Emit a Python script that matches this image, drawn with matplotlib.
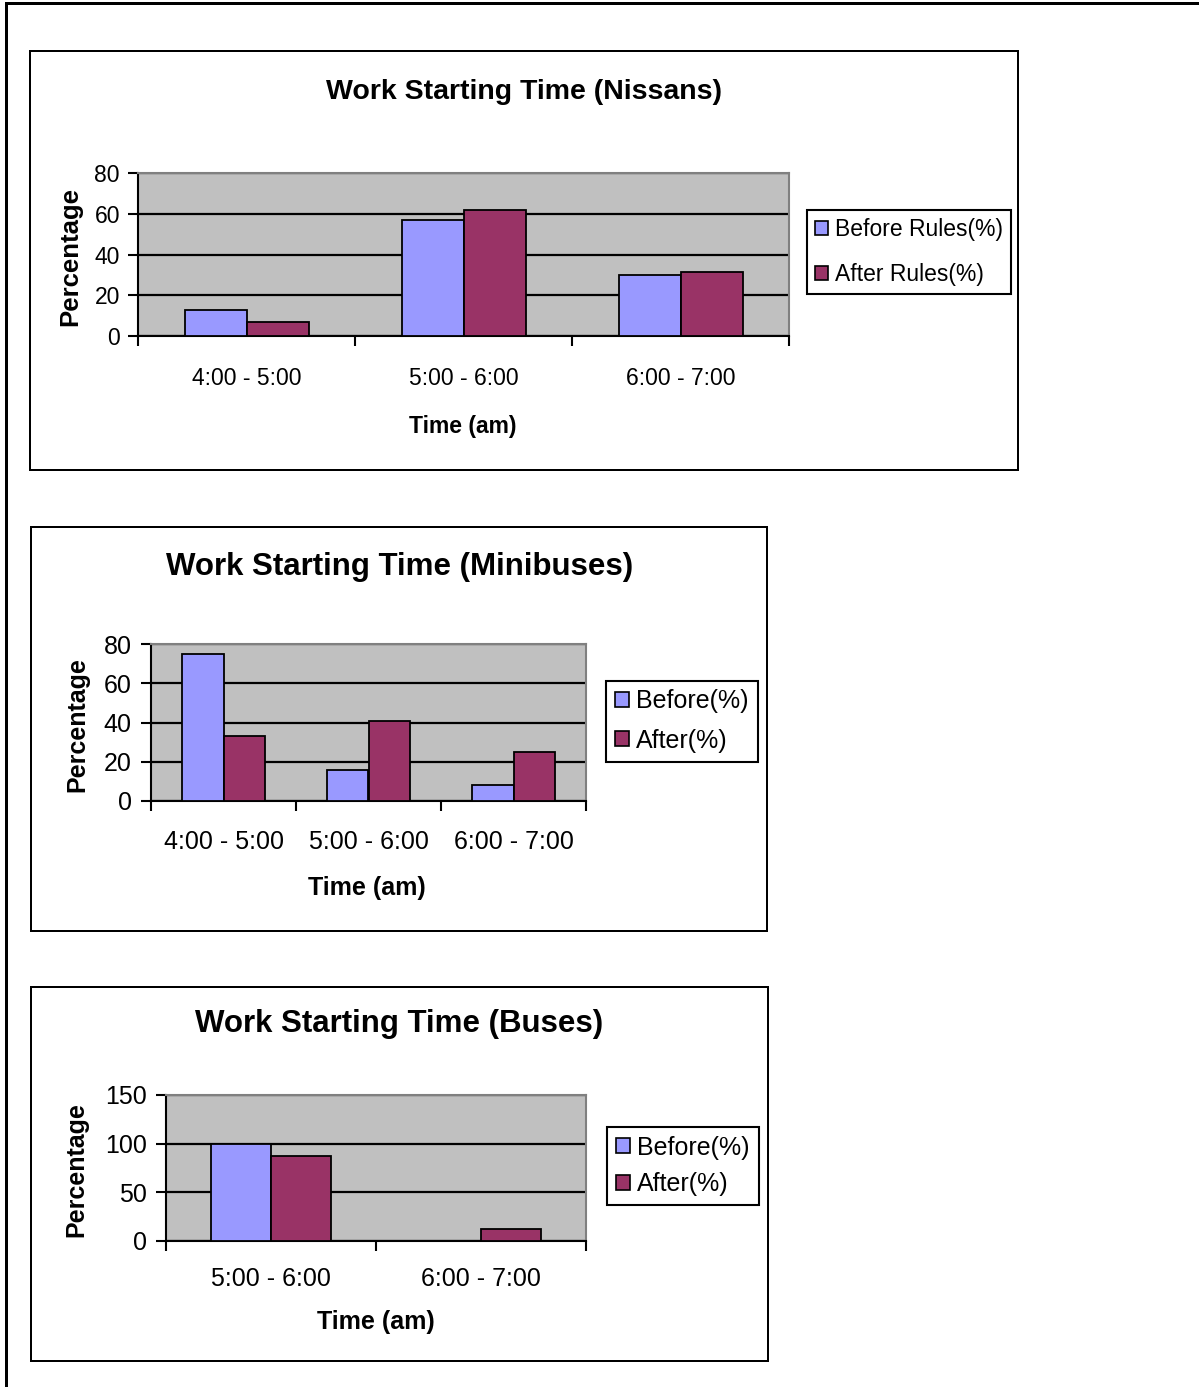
import numpy as np
import matplotlib
matplotlib.use("Agg")
import matplotlib.pyplot as plt
from matplotlib.patches import Patch, Rectangle
from matplotlib.lines import Line2D

plt.rcParams["font.family"] = ["Liberation Sans", "DejaVu Sans"]

W, H = 1199, 1387

NISSAN_SLOTS = ["4:00 - 5:00", "5:00 - 6:00", "6:00 - 7:00"]
NISSAN_BEFORE = [13, 57, 30]
NISSAN_AFTER = [7, 62, 31.5]

MINIBUS_SLOTS = ["4:00 - 5:00", "5:00 - 6:00", "6:00 - 7:00"]
MINIBUS_BEFORE = [75, 16, 8]
MINIBUS_AFTER = [33, 41, 25]

BUS_SLOTS = ["5:00 - 6:00", "6:00 - 7:00"]
BUS_BEFORE = [100, 0]
BUS_AFTER = [87, 12.5]

BEFORE_COLOR = "#9999FF"
AFTER_COLOR = "#993366"
PLOT_BG = "#C0C0C0"
PX = 72 / 100  # points per pixel at dpi 100


def fig_rect(x0, y0, x1, y1):
    """Pixel box (top-left origin) to figure-fraction [left, bottom, w, h]."""
    return [x0 / W, 1 - y1 / H, (x1 - x0) / W, (y1 - y0) / H]


def draw_panel(fig, title, slots, before, after, legend_labels, box, plot,
               ymax, ystep, title_xy, ylabel_xy, xlabel_xy, legend_xy,
               title_fs, tick_fs, label_fs, ylabel_fs, ypad, xpad, legend_gap):
    fig.add_artist(Rectangle((box[0] / W, 1 - box[3] / H),
                             (box[2] - box[0]) / W, (box[3] - box[1]) / H,
                             transform=fig.transFigure, fill=False,
                             edgecolor="black", lw=2 * PX))

    ax = fig.add_axes(fig_rect(*plot))
    ax.set_facecolor(PLOT_BG)
    x = np.arange(len(slots))
    w = 1 / 3.5  # Excel default gap width of 150%
    ax.bar(x - w / 2, before, w, color=BEFORE_COLOR, edgecolor="black", lw=1.3, zorder=3)
    ax.bar(x + w / 2, after, w, color=AFTER_COLOR, edgecolor="black", lw=1.3, zorder=3)

    ax.set_xlim(-0.5, len(slots) - 0.5)
    ax.set_ylim(0, ymax)
    ax.set_yticks(np.arange(0, ymax + 1, ystep))
    ax.yaxis.grid(True, color="black", lw=1.6)
    ax.set_axisbelow(True)
    ax.set_xticks(x, slots)
    ax.set_xticks(np.arange(len(slots) + 1) - 0.5, minor=True)
    ax.tick_params(axis="x", which="major", length=0, labelsize=tick_fs, pad=xpad)
    ax.tick_params(axis="x", which="minor", length=7, width=1.5)
    ax.tick_params(axis="y", length=7, width=1.5, labelsize=tick_fs, pad=ypad)
    for side in ("top", "right"):
        ax.spines[side].set_color("#808080")
        ax.spines[side].set_linewidth(1.5)
    for side in ("left", "bottom"):
        ax.spines[side].set_linewidth(1.5)

    fig.text(title_xy[0] / W, 1 - title_xy[1] / H, title, ha="center", va="center",
             fontsize=title_fs, fontweight="bold")
    fig.text(ylabel_xy[0] / W, 1 - ylabel_xy[1] / H, "Percentage", rotation=90,
             ha="center", va="center", fontsize=ylabel_fs, fontweight="bold")
    fig.text(xlabel_xy[0] / W, 1 - xlabel_xy[1] / H, "Time (am)", ha="center",
             va="center", fontsize=label_fs, fontweight="bold")

    handles = [Patch(facecolor=BEFORE_COLOR, edgecolor="black", lw=1.2),
               Patch(facecolor=AFTER_COLOR, edgecolor="black", lw=1.2)]
    leg = ax.legend(handles, legend_labels, loc="center",
                    bbox_to_anchor=(legend_xy[0] / W, 1 - legend_xy[1] / H),
                    bbox_transform=fig.transFigure, fontsize=tick_fs,
                    fancybox=False, edgecolor="black", framealpha=1,
                    handlelength=0.55, handleheight=0.55, handletextpad=0.3,
                    borderpad=0.35, labelspacing=legend_gap, borderaxespad=0)
    leg.get_frame().set_linewidth(1.5)


fig = plt.figure(figsize=(W / 100, H / 100), dpi=100)

# page frame: only top and left edges show
fig.add_artist(Line2D([6 / W, 6 / W], [0, 1 - 3 / H], transform=fig.transFigure,
                      color="black", lw=3 * PX))
fig.add_artist(Line2D([6 / W, 1], [1 - 3 / H, 1 - 3 / H], transform=fig.transFigure,
                      color="black", lw=3 * PX))

draw_panel(fig, "Work Starting Time (Nissans)", NISSAN_SLOTS, NISSAN_BEFORE, NISSAN_AFTER,
           ["Before Rules(%)", "After Rules(%)"],
           box=(30, 51, 1018, 470), plot=(138, 173, 789, 336), ymax=80, ystep=20,
           title_xy=(524, 92), ylabel_xy=(70, 257), xlabel_xy=(463, 426),
           legend_xy=(909, 252), title_fs=20.5, tick_fs=16.5, label_fs=16.5,
           ylabel_fs=18.5, ypad=6, xpad=22, legend_gap=0.95)

draw_panel(fig, "Work Starting Time (Minibuses)", MINIBUS_SLOTS, MINIBUS_BEFORE, MINIBUS_AFTER,
           ["Before(%)", "After(%)"],
           box=(31, 527, 767, 931), plot=(151, 644, 586, 801), ymax=80, ystep=20,
           title_xy=(400, 567), ylabel_xy=(77, 725), xlabel_xy=(367, 888),
           legend_xy=(682, 721), title_fs=22.5, tick_fs=18, label_fs=18,
           ylabel_fs=18, ypad=7, xpad=21, legend_gap=0.62)

draw_panel(fig, "Work Starting Time (Buses)", BUS_SLOTS, BUS_BEFORE, BUS_AFTER,
           ["Before(%)", "After(%)"],
           box=(31, 987, 768, 1361), plot=(166, 1095, 586, 1241), ymax=150, ystep=50,
           title_xy=(399, 1024), ylabel_xy=(76, 1170), xlabel_xy=(376, 1322),
           legend_xy=(683, 1166), title_fs=22.5, tick_fs=18, label_fs=18,
           ylabel_fs=18, ypad=7, xpad=19, legend_gap=0.5)

fig.savefig("out.png", dpi=100)
